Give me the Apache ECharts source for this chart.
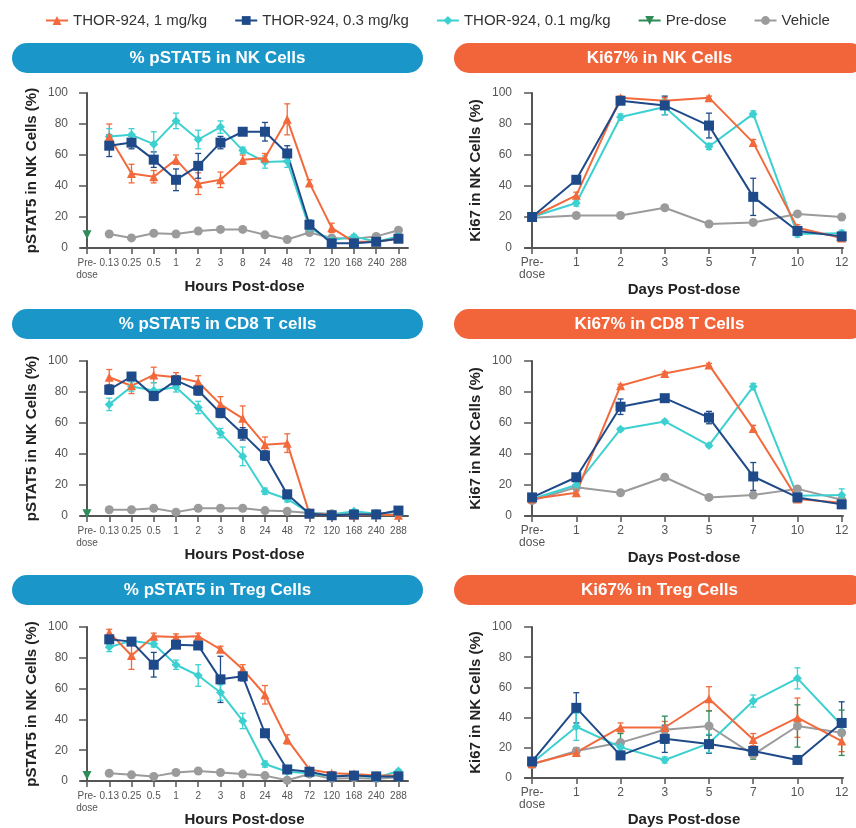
<!DOCTYPE html>
<html>
<head>
<meta charset="utf-8">
<script src="https://cdn.jsdelivr.net/npm/echarts@6/dist/echarts.min.js"></script>
<style>
  html, body { margin: 0; padding: 0; background: #fff; }
  #chart { width: 856px; height: 828px; }
</style>
</head>
<body>
<div id="chart"></div>
<script>
// x categories
const hourLabels = ['Pre-\ndose', '0.13', '0.25', '0.5', '1', '2', '3', '8', '24', '48', '72', '120', '168', '240', '288'];
const dayLabels = ['Pre-\ndose', '1', '2', '3', '5', '7', '10', '12'];

// pre-dose values for the pSTAT5 panels (NK, CD8, Treg)
const preDose = [8.5, 1.5, 3.5];

// % pSTAT5 in NK cells
const nkStat1 = [null, 72, 48, 46, 57, 41.5, 44, 57, 58, 83, 42, 13, 4, 4, 6];
const nkStat03 = [null, 66, 68, 57, 44, 53, 68, 75, 75, 61, 15, 3, 3, 4, 6];
const nkStat01 = [null, 72, 73, 67, 82, 70, 78, 63, 55.5, 56, 13, 5, 7.5, 4, 7.5];
const nkStatVeh = [null, 9, 6.5, 9.5, 9, 11, 12, 12, 8.5, 5.5, 10, 6.5, 6, 7.5, 11.5];
const nkStat1Err = [0, 8, 6, 4, 3, 7, 5, 3, 3, 10, 2, 3, 1, 1, 1];
const nkStat03Err = [0, 7, 4, 5, 7, 8, 4, 2, 6, 5, 3, 1, 1, 1, 1];
const nkStat01Err = [0, 5, 4, 8, 5, 6, 4, 2, 4, 4, 2, 1, 1, 1, 1];

// Ki67 in NK cells
const nkKi1 = [20, 34, 97, 95, 97, 68, 13, 6.5];
const nkKi03 = [20, 44, 95, 92, 79, 33, 11, 7.5];
const nkKi01 = [20, 29, 84.5, 91, 65.5, 86.5, 9, 9.5];
const nkKiVeh = [19.5, 21, 21, 26, 15.5, 16.5, 22, 20];
const nkKi1Err = [1, 2, 1, 2, 1, 2, 2, 1];
const nkKi03Err = [1, 2, 2, 6, 8, 12, 2, 2];
const nkKi01Err = [1, 2, 2, 5, 2, 2, 2, 2];

// % pSTAT5 in CD8 T cells
const cd8Stat1 = [null, 89.5, 84, 91, 89.5, 86.5, 72, 63, 46, 47, 1.5, 1, 0.5, 1, 0.5];
const cd8Stat03 = [null, 81.5, 90, 77.5, 87.5, 81, 66.5, 53, 39, 14, 1.5, 0.5, 1, 1, 3.5];
const cd8Stat01 = [null, 72, 83.5, 81, 83, 70, 53.5, 38.5, 16, 11, 2, 1, 3, 1.5, 0.5];
const cd8StatVeh = [null, 4, 4, 5, 2.5, 5, 5, 5, 3.5, 3, 2, 1.5, 1.5, 1.5, 2.5];
const cd8Stat1Err = [0, 5, 5, 5, 3, 4, 5, 8, 5, 6, 1, 1, 1, 1, 1];
const cd8Stat03Err = [0, 3, 2, 3, 3, 3, 3, 4, 3, 2, 1, 1, 1, 1, 1];
const cd8Stat01Err = [0, 4, 3, 5, 3, 4, 3, 6, 2, 2, 1, 1, 1, 1, 1];

// Ki67 in CD8 T cells
const cd8Ki1 = [11, 15, 84, 92, 97.5, 56.5, 11, 8.5];
const cd8Ki03 = [12, 25, 70.5, 76, 63.5, 25.5, 12, 7.5];
const cd8Ki01 = [11, 20, 56, 61, 45.5, 83.5, 13, 13.5];
const cd8KiVeh = [10, 18.5, 15, 25, 12, 13.5, 17.5, 10.5];
const cd8Ki1Err = [1, 1, 1, 1, 1, 2, 1, 1];
const cd8Ki03Err = [1, 2, 5, 2, 4, 9, 2, 2];
const cd8Ki01Err = [1, 2, 1, 1, 1, 2, 2, 4];

// % pSTAT5 in Treg cells
const tregStat1 = [null, 96.5, 81.5, 94, 93.5, 94, 85.5, 72.5, 56, 27, 7.5, 5, 4.5, 3.5, 3.5];
const tregStat03 = [null, 92, 90.5, 75.5, 88.5, 88, 66, 68, 31, 7.5, 6, 3, 3.5, 3, 3];
const tregStat01 = [null, 87, 91, 89, 75.5, 68.5, 57.5, 39, 11, 6, 5, 3, 4, 2, 6.5];
const tregStatVeh = [null, 5, 4, 3, 5.5, 6.5, 5.5, 4.5, 3.5, 0.5, 4.5, 1.5, 2, 1.5, 2.5];
const tregStat1Err = [0, 2, 9, 2, 2, 2, 2, 3, 6, 3, 1, 1, 1, 1, 1];
const tregStat03Err = [0, 3, 2, 8, 2, 2, 15, 3, 2, 1, 1, 1, 1, 1, 1];
const tregStat01Err = [0, 3, 2, 2, 3, 7, 5, 5, 2, 1, 1, 1, 1, 1, 1];

// Ki67 in Treg cells
const tregKi1 = [9.5, 17, 33.5, 33.5, 52.5, 25.5, 40, 24.5];
const tregKi03 = [11, 46.5, 15, 26, 22.5, 18, 12, 36.5];
const tregKi01 = [10, 34, 20.5, 12, 23, 51, 66, 35];
const tregKiVeh = [9, 18, 23.5, 32, 34.5, 15.5, 34.5, 30];
const tregKi1Err = [1, 2, 3, 4, 8, 4, 13, 7];
const tregKi03Err = [1, 10, 2, 9, 6, 2, 1, 14];
const tregKi01Err = [1, 9, 2, 2, 6, 4, 7, 3];
const tregKiVehErr = [1, 2, 6, 9, 10, 3, 14, 15];

const NAMES = ['THOR-924, 1 mg/kg', 'THOR-924, 0.3 mg/kg', 'THOR-924, 0.1 mg/kg', 'Pre-dose', 'Vehicle'];
const COLORS = ['#f26a3c', '#1f4a89', '#3dd0d0', '#2f8b57', '#9b9b9b'];
const SYMBOLS = ['triangle', 'rect', 'diamond', 'triangle', 'circle'];
const BLUE = '#1a96c9';
const ORANGE = '#f2643a';
const FONT = '"Liberation Sans", Arial, sans-serif';

const panels = [
  { title: '% pSTAT5 in NK Cells', bar: BLUE, hours: true, top: 93, barTop: 43,
    yName: 'pSTAT5 in NK Cells (%)', data: [nkStat1, nkStat03, nkStat01, nkStatVeh], err: [nkStat1Err, nkStat03Err, nkStat01Err, null], pre: preDose[0] },
  { title: 'Ki67% in NK Cells', bar: ORANGE, hours: false, top: 93, barTop: 43,
    yName: 'Ki67 in NK Cells (%)', data: [nkKi1, nkKi03, nkKi01, nkKiVeh], err: [nkKi1Err, nkKi03Err, nkKi01Err, null] },
  { title: '% pSTAT5 in CD8 T cells', bar: BLUE, hours: true, top: 361, barTop: 309,
    yName: 'pSTAT5 in NK Cells (%)', data: [cd8Stat1, cd8Stat03, cd8Stat01, cd8StatVeh], err: [cd8Stat1Err, cd8Stat03Err, cd8Stat01Err, null], pre: preDose[1] },
  { title: 'Ki67% in CD8 T Cells', bar: ORANGE, hours: false, top: 361, barTop: 309,
    yName: 'Ki67 in NK Cells (%)', data: [cd8Ki1, cd8Ki03, cd8Ki01, cd8KiVeh], err: [cd8Ki1Err, cd8Ki03Err, cd8Ki01Err, null] },
  { title: '% pSTAT5 in Treg Cells', bar: BLUE, hours: true, top: 627, barTop: 575,
    yName: 'pSTAT5 in NK Cells (%)', data: [tregStat1, tregStat03, tregStat01, tregStatVeh], err: [tregStat1Err, tregStat03Err, tregStat01Err, null], pre: preDose[2] },
  { title: 'Ki67% in Treg Cells', bar: ORANGE, hours: false, top: 627, barTop: 575,
    yName: 'Ki67 in NK Cells (%)', data: [tregKi1, tregKi03, tregKi01, tregKiVeh], err: [tregKi1Err, tregKi03Err, tregKi01Err, tregKiVehErr] }
];

const grids = [], xAxes = [], extraX = [], yAxes = [], series = [], graphics = [];

function errRender(color) {
  return function (params, api) {
    const x = api.value(0), y = api.value(1), e = api.value(2);
    if (!e) return null;
    const a = api.coord([x, Math.min(100, y + e)]);
    const b = api.coord([x, Math.max(0, y - e)]);
    const st = { stroke: color, lineWidth: 1.3 };
    return {
      type: 'group',
      children: [
        { type: 'line', shape: { x1: a[0], y1: a[1], x2: b[0], y2: b[1] }, style: st },
        { type: 'line', shape: { x1: a[0] - 3, y1: a[1], x2: a[0] + 3, y2: a[1] }, style: st },
        { type: 'line', shape: { x1: b[0] - 3, y1: b[1], x2: b[0] + 3, y2: b[1] }, style: st }
      ]
    };
  };
}

panels.forEach((p, k) => {
  const left = p.hours ? 81 : 525;
  const width = p.hours ? 327 : 318;
  const labels = p.hours ? hourLabels : dayLabels;
  const idx = labels.map((_, i) => i);
  const fs = p.hours ? 10 : 12;
  const xMin = p.hours ? -0.27 : -0.16;
  const xMax = p.hours ? 14.43 : 7.03;
  grids.push({ left: left, top: p.top, width: width, height: 155 });

  // hour panels: "Pre-dose" sits on its own label-only axis so the crowded
  // "0.13" next to it is not dropped by the overlap check
  const labelIdx = p.hours ? idx.slice(1) : idx;

  xAxes.push({
    gridIndex: k, type: 'value', position: 'bottom', min: xMin, max: xMax,
    axisLine: { show: true, onZero: false, lineStyle: { color: '#555', width: 2 } },
    axisTick: { show: true, length: 6, customValues: idx, lineStyle: { color: '#555', width: 1.5 } },
    axisLabel: {
      customValues: labelIdx, formatter: v => labels[v],
      color: '#555', fontSize: fs, margin: 9, lineHeight: 12, fontFamily: FONT
    },
    splitLine: { show: false },
    name: p.hours ? 'Hours Post-dose' : 'Days Post-dose',
    nameLocation: 'middle', nameGap: 31,
    nameTextStyle: { fontWeight: 'bold', fontSize: 15, color: '#222', fontFamily: FONT }
  });

  if (p.hours) {
    extraX.push({
      gridIndex: k, type: 'value', position: 'bottom', offset: 0, min: xMin, max: xMax,
      axisLine: { show: false }, axisTick: { show: false }, splitLine: { show: false },
      axisLabel: {
        customValues: [0], formatter: v => labels[v],
        color: '#555', fontSize: fs, margin: 9, lineHeight: 12, fontFamily: FONT
      }
    });
  }

  yAxes.push({
    gridIndex: k, type: 'value', min: 0, max: 100, interval: 20,
    axisLine: { show: true, lineStyle: { color: '#555', width: 2 } },
    axisTick: { show: true, length: 8, lineStyle: { color: '#555', width: 1.5 } },
    axisLabel: { color: '#555', fontSize: 12, margin: 13, fontFamily: FONT },
    splitLine: { show: false },
    name: p.yName, nameLocation: 'middle', nameGap: 42, nameRotate: 90,
    nameTextStyle: { fontWeight: 'bold', fontSize: 15, color: '#222', fontFamily: FONT }
  });

  // title bar
  const barLeft = p.hours ? 12 : 454;
  graphics.push({
    type: 'rect',
    shape: { x: barLeft, y: p.barTop, width: 411, height: 30, r: 15 },
    style: { fill: p.bar },
    z: 1
  });
  graphics.push({
    type: 'text',
    x: barLeft + 205.5, y: p.barTop + 15,
    style: {
      text: p.title, fill: '#fff', fontSize: 17, fontWeight: 'bold', fontFamily: FONT,
      align: 'center', verticalAlign: 'middle', textAlign: 'center', textVerticalAlign: 'middle'
    },
    z: 2
  });

  // error bars
  [0, 1, 2, 3].forEach(s => {
    const e = p.err[s];
    if (!e) return;
    const vals = p.data[s];
    const d = [];
    vals.forEach((v, i) => { if (v != null) d.push([i, v, e[i]]); });
    series.push({
      type: 'custom', name: 'err' + k + '_' + s, xAxisIndex: k, yAxisIndex: k,
      data: d, encode: { x: 0, y: 1 }, renderItem: errRender(COLORS[s]), z: 1, silent: true
    });
  });

  // lines; draw vehicle first, then 0.1, 1, 0.3
  [4, 2, 0, 1].forEach(c => {
    const s = c === 4 ? 3 : c;
    const vals = p.data[s];
    const d = [];
    vals.forEach((v, i) => { if (v != null) d.push([i, v]); });
    series.push({
      type: 'line', name: NAMES[c], xAxisIndex: k, yAxisIndex: k,
      data: d, symbol: SYMBOLS[c], symbolSize: c === 1 ? 10 : 9,
      itemStyle: { color: COLORS[c] }, lineStyle: { color: COLORS[c], width: 2 },
      z: 3, animation: false
    });
  });

  if (p.pre != null) {
    series.push({
      type: 'line', name: NAMES[3], xAxisIndex: k, yAxisIndex: k,
      data: [[0, p.pre]], symbol: 'triangle', symbolRotate: 180, symbolSize: 9,
      itemStyle: { color: COLORS[3] }, lineStyle: { color: COLORS[3], width: 2 },
      z: 3, animation: false
    });
  }
});

const chart = echarts.init(document.getElementById('chart'));
chart.setOption({
  animation: false,
  textStyle: { fontFamily: FONT },
  legend: {
    data: NAMES, left: 40, top: 8, itemGap: 27, itemWidth: 22, itemHeight: 11,
    textStyle: { fontSize: 15, color: '#333', fontFamily: FONT }
  },
  grid: grids,
  xAxis: xAxes.concat(extraX),
  yAxis: yAxes,
  graphic: graphics,
  series: series
});
</script>
</body>
</html>
